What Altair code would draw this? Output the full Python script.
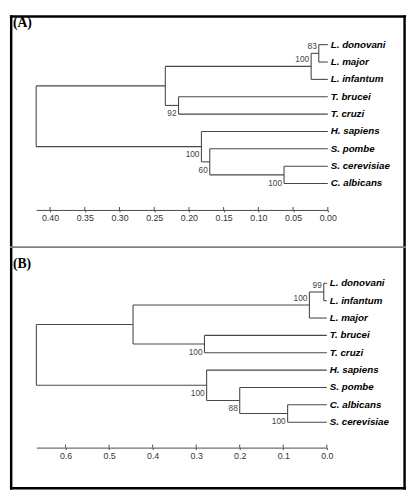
import altair as alt
import pandas as pd

# ---------------- Panel A data ----------------
tips_a = ["L. donovani", "L. major", "L. infantum", "T. brucei", "T. cruzi",
          "H. sapiens", "S. pombe", "S. cerevisiae", "C. albicans"]
nodes_a = ["n_dm", "n_leish", "n_tryp", "n_kin", "n_scca", "n_60", "n_opi", "root"]
child1_a = ["L. donovani", "n_dm", "T. brucei", "n_leish", "S. cerevisiae", "S. pombe", "H. sapiens", "n_kin"]
child2_a = ["L. major", "L. infantum", "T. cruzi", "n_tryp", "C. albicans", "n_scca", "n_60", "n_opi"]
heights_a = [0.013, 0.024, 0.215, 0.234, 0.063, 0.170, 0.182, 0.42]
boot_a = ["83", "100", "92", "", "100", "60", "100", ""]
ticks_a = [0.40, 0.35, 0.30, 0.25, 0.20, 0.15, 0.10, 0.05, 0.00]

# ---------------- Panel B data ----------------
tips_b = ["L. donovani", "L. infantum", "L. major", "T. brucei", "T. cruzi",
          "H. sapiens", "S. pombe", "C. albicans", "S. cerevisiae"]
nodes_b = ["n_di", "n_leish", "n_tryp", "n_kin", "n_cs", "n_88", "n_opi", "root"]
child1_b = ["L. donovani", "n_di", "T. brucei", "n_leish", "C. albicans", "S. pombe", "H. sapiens", "n_kin"]
child2_b = ["L. infantum", "L. major", "T. cruzi", "n_tryp", "S. cerevisiae", "n_cs", "n_88", "n_opi"]
heights_b = [0.007, 0.040, 0.281, 0.445, 0.090, 0.200, 0.276, 0.667]
boot_b = ["99", "100", "100", "", "100", "88", "100", ""]
ticks_b = [0.6, 0.5, 0.4, 0.3, 0.2, 0.1, 0.0]


def tree_tables(tips, names, c1, c2, heights, boots):
    ypos = {t: float(i) for i, t in enumerate(tips)}
    xpos = {t: 0.0 for t in tips}
    parent, side = {}, {}
    segs = []
    for n, a, b, h in zip(names, c1, c2, heights):
        ypos[n] = (ypos[a] + ypos[b]) / 2
        xpos[n] = h
        parent[a], parent[b] = n, n
        side[a], side[b] = "above", "below"
        segs.append(dict(x=h, x2=h, y=ypos[a], y2=ypos[b]))
    for ch, p in parent.items():
        segs.append(dict(x=xpos[ch], x2=xpos[p], y=ypos[ch], y2=ypos[ch]))
    tipdf = pd.DataFrame(dict(name=tips, x=[0.0] * len(tips), y=[ypos[t] for t in tips]))
    rows = [dict(label=bt, x=xpos[n], y=ypos[n], side=side.get(n, "below"))
            for n, bt in zip(names, boots) if bt]
    return pd.DataFrame(segs), tipdf, pd.DataFrame(rows)


LINE = "#484848"


def panel(letter, tips, names, c1, c2, heights, boots, xmax, xrange, yrange,
          ticks, fmt, w, h, axis_y, frame):
    segs, tipdf, bootdf = tree_tables(tips, names, c1, c2, heights, boots)
    xs = alt.Scale(domain=[xmax, 0], range=xrange, nice=False, zero=False)
    ys = alt.Scale(domain=[0, len(tips) - 1], range=yrange, nice=False, zero=False)
    ax = alt.Axis(orient="bottom", offset=axis_y - h, values=ticks, format=fmt,
                  title=None, grid=False, labelFont="Liberation Sans",
                  labelFontSize=9, labelColor="#333333", labelPadding=2,
                  tickSize=2, tickColor=LINE, domainColor=LINE,
                  labelFlush=False, labelOverlap=False)

    def X(f):
        return alt.X(f, scale=xs, axis=ax, title=None)

    def Y(f):
        return alt.Y(f, scale=ys, axis=None)

    seg_layer = alt.Chart(segs).mark_rule(color=LINE, strokeWidth=1.1).encode(
        x=X("x:Q"), x2="x2:Q", y=Y("y:Q"), y2="y2:Q")
    # upper half of the scale-bar ticks
    tickdf = pd.DataFrame({"x": ticks})
    tick_layer = alt.Chart(tickdf).mark_rule(color=LINE, strokeWidth=1).encode(
        x=X("x:Q"), y=alt.value(axis_y - 3), y2=alt.value(axis_y))
    tip_layer = alt.Chart(tipdf).mark_text(
        align="left", baseline="middle", dx=3, font="Liberation Sans", fontSize=10,
        fontWeight="bold", fontStyle="italic", color="black").encode(
        x=X("x:Q"), y=Y("y:Q"), text="name:N")
    above = alt.Chart(bootdf[bootdf.side == "above"]).mark_text(
        align="right", baseline="middle", dx=-2, dy=-7, font="Liberation Sans",
        fontSize=8.5, color="#444444").encode(x=X("x:Q"), y=Y("y:Q"), text="label:N")
    below = alt.Chart(bootdf[bootdf.side == "below"]).mark_text(
        align="right", baseline="middle", dx=-2, dy=8, font="Liberation Sans",
        fontSize=8.5, color="#444444").encode(x=X("x:Q"), y=Y("y:Q"), text="label:N")
    one = pd.DataFrame({"label": [letter]})
    letter_layer = alt.Chart(one).mark_text(
        align="left", baseline="middle", font="Liberation Serif", fontSize=14,
        fontWeight="bold", color="black").encode(
        x=alt.value(3), y=alt.value(frame["label_y"]), text="label:N")
    frame_layers = []
    for (x1, x2, y1, y2, col, sw) in frame["lines"]:
        frame_layers.append(alt.Chart(one).mark_rule(color=col, strokeWidth=sw).encode(
            x=alt.value(x1), x2=alt.value(x2), y=alt.value(y1), y2=alt.value(y2)))
    return alt.layer(seg_layer, tick_layer, tip_layer, above, below, letter_layer,
                     *frame_layers).properties(width=w, height=h)


W = 405
HA, HB = 236, 249
frame_a = dict(label_y=8, lines=[
    (1.25, 1.25, 0, HA, "black", 2.5),
    (W - 1.5, W - 1.5, 0, HA, "black", 2.5),
    (0, W, 1.25, 1.25, "black", 2.5),
])
frame_b = dict(label_y=18, lines=[
    (1.25, 1.25, 0, HB, "black", 2.5),
    (W - 1.5, W - 1.5, 0, HB, "black", 2.5),
    (0, W, HB - 1.5, HB - 1.5, "black", 2.5),
    (0, W, 1, 1, "#808080", 2),
])

pa = panel("(A)", tips_a, nodes_a, child1_a, child2_a, heights_a, boot_a, 0.42,
           [26.8, 325], [30, 172], ticks_a, ".2f", W, HA, 199, frame_a)
pb = panel("(B)", tips_b, nodes_b, child1_b, child2_b, heights_b, boot_b, 0.667,
           [27, 324], [38, 180], ticks_b, ".1f", W, HB, 206, frame_b)

chart = alt.vconcat(pa, pb, spacing=0, bounds="flush").properties(padding=0).configure_view(
    stroke="transparent")

chart.save("out.html", embed_options={"renderer": "svg", "actions": False})
